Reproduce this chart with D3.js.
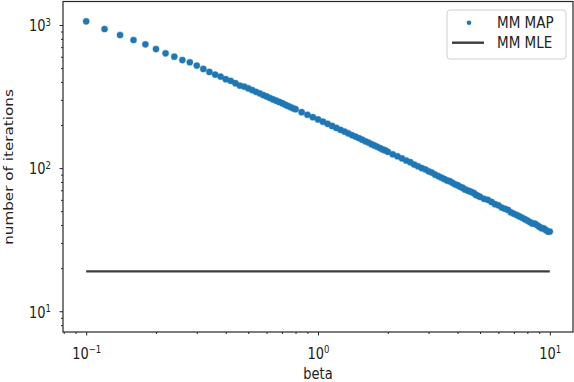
<!DOCTYPE html>
<html>
<head>
<meta charset="utf-8">
<script src="https://cdn.jsdelivr.net/npm/d3@7"></script>
<style>
  body { margin: 0; background: #fff; }
  text { font-family: "DejaVu Sans", sans-serif; fill: #222; }
</style>
</head>
<body>
<div id="chart"></div>
<script>
// beta grid and iteration counts
const betaVals = [
  0.10, 0.12, 0.14, 0.16, 0.18, 0.20, 0.22, 0.24, 0.26, 0.28, 0.30, 0.32,
  0.34, 0.36, 0.38, 0.40, 0.42, 0.44, 0.46, 0.48, 0.50, 0.52, 0.54, 0.56,
  0.58, 0.60, 0.62, 0.64, 0.66, 0.68, 0.70, 0.72, 0.74, 0.76, 0.78, 0.80,
  0.85, 0.90, 0.95, 1.00, 1.05, 1.10, 1.15, 1.20, 1.25, 1.30, 1.35, 1.40,
  1.45, 1.50, 1.55, 1.60, 1.65, 1.70, 1.75, 1.80, 1.85, 1.90, 1.95, 2.00,
  2.1, 2.2, 2.3, 2.4, 2.5, 2.6, 2.7, 2.8, 2.9, 3.0, 3.1, 3.2, 3.3, 3.4, 3.5,
  3.6, 3.7, 3.8, 3.9, 4.0, 4.1, 4.2, 4.3, 4.4, 4.5, 4.6, 4.7, 4.8, 4.9, 5.0,
  5.2, 5.4, 5.6, 5.8, 6.0, 6.2, 6.4, 6.6, 6.8, 7.0, 7.2, 7.4, 7.6, 7.8, 8.0,
  8.2, 8.4, 8.6, 8.8, 9.0, 9.2, 9.4, 9.6, 9.8, 10.0
];
const mapIters = [
  1061, 937, 851, 785, 732, 679, 634, 601, 569, 549, 520, 493,
  470, 450, 436, 418, 407, 392, 377, 371, 361, 351, 341, 333,
  324, 317, 309, 302, 296, 290, 284, 278, 272, 267, 262, 258,
  246, 236, 227, 219, 211, 204, 197, 191, 185, 180, 175, 170,
  166, 162, 158, 154, 151, 147, 144, 141, 138, 135, 133, 130,
  125, 121, 117, 113, 110, 106, 103, 100, 98, 95, 93, 90, 88, 86, 84,
  82, 81, 79, 77, 76, 74, 73, 71, 70, 69, 68, 67, 65, 64, 63,
  61, 60, 58, 56, 55, 53, 52, 51, 49, 48, 47, 46, 45, 44, 43,
  42, 41, 41, 40, 39, 38, 38, 37, 36, 36
];
const mleBeta = [0.1, 10];
const mleIters = [19, 19];

const xTickVals = [0.1, 1, 10];
const xTickExps = ["\u22121", "0", "1"];
const yTickVals = [10, 100, 1000];
const yTickExps = ["1", "2", "3"];
const seriesNames = ["MM MAP", "MM MLE"];

const W = 574, H = 382;
const plotLeft = 63, plotRight = 573, plotTop = 1.5, plotBottom = 332;
const stretch = 1.17;   // picture is slightly taller than wide

const svg = d3.select("#chart").append("svg")
    .attr("width", W)
    .attr("height", H);

const x = d3.scaleLog()
  .domain([Math.pow(10, -1.1), Math.pow(10, 1.1)])
  .range([plotLeft, plotRight]);
const y = d3.scaleLog()
  .domain([Math.pow(10, 0.855), Math.pow(10, 3.164)])
  .range([plotBottom, plotTop]);

// minor + major ticks
const xMinor = x.ticks().filter(v => !xTickVals.some(t => Math.abs(t - v) < 1e-9));
const yMinor = y.ticks().filter(v => !yTickVals.some(t => Math.abs(t - v) < 1e-9));

function styleAxis(g) {
  g.select(".domain").remove();
  g.selectAll(".tick line").attr("stroke", "#262626").attr("stroke-width", 1);
}

svg.append("g")
  .attr("transform", "translate(0," + plotBottom + ")")
  .call(d3.axisBottom(x).tickValues(xMinor).tickSize(2).tickFormat(""))
  .call(styleAxis);
const xAxis = svg.append("g")
  .attr("transform", "translate(0," + plotBottom + ")")
  .call(d3.axisBottom(x).tickValues(xTickVals).tickSize(3.5).tickFormat(""))
  .call(styleAxis);

svg.append("g")
  .attr("transform", "translate(" + plotLeft + ",0)")
  .call(d3.axisLeft(y).tickValues(yMinor).tickSize(2).tickFormat(""))
  .call(styleAxis);
const yAxis = svg.append("g")
  .attr("transform", "translate(" + plotLeft + ",0)")
  .call(d3.axisLeft(y).tickValues(yTickVals).tickSize(3.5).tickFormat(""))
  .call(styleAxis);

// power-of-ten labels with superscripts
function powerLabel(sel, exp, anchor) {
  sel.text(null)
    .attr("font-size", 13)
    .attr("text-anchor", anchor)
    .attr("dy", null);
  sel.append("tspan").text("10");
  sel.append("tspan").attr("font-size", 8.5).attr("dy", -4.5).text(exp);
}

xAxis.selectAll(".tick").each(function(d, i) {
  const t = d3.select(this).select("text")
    .attr("y", 0)
    .attr("transform", "translate(0,26.5) scale(1," + stretch + ")");
  powerLabel(t, xTickExps[i], "middle");
});
yAxis.selectAll(".tick").each(function(d, i) {
  const t = d3.select(this).select("text")
    .attr("x", 0)
    .attr("transform", "translate(-12,5.8) scale(1," + stretch + ")");
  powerLabel(t, yTickExps[i], "end");
});

// MLE horizontal line
const line = d3.line().x((d, i) => x(mleBeta[i])).y(d => y(d));
svg.append("path")
  .datum(mleIters)
  .attr("d", line)
  .attr("fill", "none")
  .attr("stroke", "#3d3d3d")
  .attr("stroke-width", 2.4);

// MAP points
svg.append("g").selectAll("circle")
  .data(mapIters)
  .join("circle")
    .attr("cx", (d, i) => x(betaVals[i]))
    .attr("cy", d => y(d))
    .attr("r", 3.1)
    .attr("fill", "#1f77b4")
    .attr("stroke", "#1f77b4")
    .attr("stroke-opacity", 0.35)
    .attr("stroke-width", 1.2);

// axes frame
svg.append("rect")
  .attr("x", plotLeft).attr("y", plotTop)
  .attr("width", plotRight - plotLeft).attr("height", plotBottom - plotTop)
  .attr("fill", "none")
  .attr("stroke", "#262626")
  .attr("stroke-width", 1.2);

// axis labels
svg.append("text")
  .attr("transform", "translate(318,378.5) scale(1," + stretch + ")")
  .attr("text-anchor", "middle")
  .attr("font-size", 13)
  .text("beta");
svg.append("text")
  .attr("transform", "translate(13,167) rotate(-90) scale(" + stretch + ",1)")
  .attr("text-anchor", "middle")
  .attr("font-size", 13)
  .text("number of iterations");

// legend
const lg = svg.append("g");
lg.append("rect")
  .attr("x", 447).attr("y", 10)
  .attr("width", 119).attr("height", 49)
  .attr("rx", 3)
  .attr("fill", "#fff").attr("fill-opacity", 0.8)
  .attr("stroke", "#d0d0d0");
lg.append("circle")
  .attr("cx", 469).attr("cy", 22.7).attr("r", 2.3)
  .attr("fill", "#1f77b4");
lg.append("line")
  .attr("x1", 452).attr("x2", 484)
  .attr("y1", 42.7).attr("y2", 42.7)
  .attr("stroke", "#3d3d3d").attr("stroke-width", 2.4);
lg.selectAll("text.lab")
  .data(seriesNames)
  .join("text")
    .attr("class", "lab")
    .attr("transform", (d, i) => "translate(497," + (28.2 + i * 20) + ") scale(1," + stretch + ")")
    .attr("font-size", 13.5)
    .text(d => d);
</script>
</body>
</html>
